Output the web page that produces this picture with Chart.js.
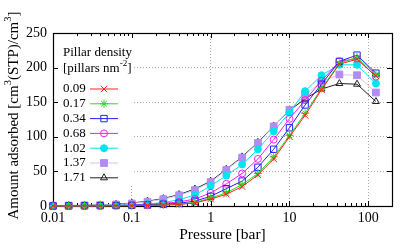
<!DOCTYPE html>
<html>
<head>
<meta charset="utf-8">
<script src="https://cdn.jsdelivr.net/npm/chart.js@4.4.0/dist/chart.umd.min.js"></script>
<style>
  html, body { margin: 0; padding: 0; background: #fff; }
</style>
</head>
<body>
<canvas id="chart" width="415" height="249"></canvas>
<script>
// pressure points [bar] and amount adsorbed for each pillar density
const pressure = [0.01, 0.0158, 0.0251, 0.0398, 0.0631, 0.1, 0.158, 0.251, 0.398, 0.631, 1, 1.58, 2.51, 3.98, 6.31, 10, 15.8, 25.5, 43, 72, 125];
const d009 = [0.1, 0.1, 0.2, 0.3, 0.4, 0.5, 0.8, 1.3, 2.2, 4.5, 10, 17, 28, 45, 68, 100, 131, 168, 205, 212, 188];
const d017 = [0.1, 0.1, 0.2, 0.3, 0.4, 0.6, 0.9, 1.5, 2.6, 5, 11.5, 19, 31, 47, 71, 102, 134, 170, 206, 215, 190];
const d034 = [0.1, 0.2, 0.3, 0.4, 0.6, 0.9, 1.4, 2.4, 4, 7, 14, 25, 36, 56, 82, 113, 146, 176, 209, 218, 192];
const d068 = [0.1, 0.2, 0.3, 0.5, 0.8, 1.3, 2.2, 3.8, 6, 10, 19, 32, 47, 68, 96, 126, 153, 181, 209, 213, 187];
const d102 = [0.2, 0.3, 0.4, 0.7, 1.1, 1.8, 3, 5, 9, 16, 29, 44, 60, 82, 108, 135, 166, 189, 204, 204, 177];
const d137 = [0.4, 0.6, 0.9, 1.4, 2.2, 3.6, 6.2, 9.8, 15.5, 23, 34.5, 52, 70, 91, 115, 139, 160, 180, 190, 189, 164];
const d171 = [0.5, 0.7, 1, 1.6, 2.5, 4.3, 7, 10.7, 16.5, 24.5, 35.8, 53, 71, 92, 115.5, 138, 155, 169, 177, 176, 151];
const densityLabels = ['0.09', '0.17', '0.34', '0.68', '1.02', '1.37', '1.71'];
const xTicks = [0.01, 0.1, 1, 10, 100];
const yTicks = [0, 50, 100, 150, 200, 250];

const SERIF = '"Liberation Serif", "DejaVu Serif", serif';

function pts(vals) {
  return vals.map(function(v, i) { return { x: pressure[i], y: v }; });
}

function ds(label, vals, line, mark, fill, style, r) {
  return {
    label: label,
    data: pts(vals),
    borderColor: line,
    borderWidth: 1,
    pointStyle: style,
    pointRadius: r,
    pointBorderColor: mark,
    pointBackgroundColor: fill,
    pointBorderWidth: 1,
    tension: 0,
    clip: false
  };
}

const datasets = [
  ds(densityLabels[0], d009, '#ff2020', '#ff2020', 'rgba(0,0,0,0)', 'crossRot', 4.5),
  ds(densityLabels[1], d017, '#22dd22', '#22dd22', 'rgba(0,0,0,0)', 'star', 4),
  ds(densityLabels[2], d034, '#2020ff', '#2020ff', 'rgba(0,0,0,0)', 'rect', 4.5),
  ds(densityLabels[3], d068, '#ee22ee', '#ee22ee', 'rgba(0,0,0,0)', 'circle', 3.5),
  ds(densityLabels[4], d102, '#00e4ee', '#00e4ee', '#00e4ee', 'circle', 3.5),
  ds(densityLabels[5], d137, '#d6c2f8', '#b48cf0', '#b48cf0', 'rect', 4.8),
  ds(densityLabels[6], d171, '#202020', '#202020', 'rgba(0,0,0,0)', 'triangle', 4)
];

// text with superscript pieces
function richWidth(ctx, parts, size) {
  let w = 0;
  parts.forEach(function(p) {
    ctx.font = (p.sup ? size * 0.7 : size) + 'px ' + SERIF;
    w += ctx.measureText(p.t).width;
  });
  return w;
}
function drawRich(ctx, parts, x, y, size) {
  ctx.textBaseline = 'middle';
  ctx.textAlign = 'left';
  parts.forEach(function(p) {
    ctx.font = (p.sup ? size * 0.7 : size) + 'px ' + SERIF;
    ctx.fillText(p.t, x, p.sup ? y - size * 0.38 : y);
    x += ctx.measureText(p.t).width;
  });
}

const gnuplotFrame = {
  id: 'gnuplotFrame',
  beforeDatasetsDraw(chart) {
    const ctx = chart.ctx;
    const a = chart.chartArea;
    const xs = chart.scales.x, ys = chart.scales.y;
    ctx.save();
    // key box covers the grid
    ctx.fillStyle = '#fff';
    ctx.fillRect(a.left + 1, a.top + 1, 80, 152);
    // inward ticks
    ctx.strokeStyle = '#000';
    ctx.lineWidth = 1;
    ctx.beginPath();
    for (let dec = 0.01; dec < 300; dec *= 10) {
      for (let m = 1; m <= 9; m++) {
        const v = dec * m;
        if (v < xs.min || v > xs.max) continue;
        const px = Math.round(xs.getPixelForValue(v)) + 0.5;
        const len = m === 1 ? 5 : 3;
        ctx.moveTo(px, a.bottom); ctx.lineTo(px, a.bottom - len);
        ctx.moveTo(px, a.top); ctx.lineTo(px, a.top + len);
      }
    }
    yTicks.forEach(function(v) {
      const py = Math.round(ys.getPixelForValue(v)) + 0.5;
      ctx.moveTo(a.left, py); ctx.lineTo(a.left + 5, py);
      ctx.moveTo(a.right, py); ctx.lineTo(a.right - 5, py);
    });
    ctx.stroke();
    // box
    ctx.lineWidth = 1.2;
    ctx.strokeRect(Math.round(a.left) + 0.5, Math.round(a.top) + 0.5,
      Math.round(a.right - a.left), Math.round(a.bottom - a.top));
    ctx.restore();
  },
  afterDatasetsDraw(chart) {
    const ctx = chart.ctx;
    const a = chart.chartArea;
    ctx.save();
    ctx.fillStyle = '#000';
    // key
    const kx = a.left + 10;
    drawRich(ctx, [{ t: 'Pillar density' }], kx, a.top + 20, 13);
    drawRich(ctx, [{ t: '[pillars nm' }, { t: '-2', sup: true }, { t: ']' }], kx, a.top + 36, 13);
    chart.data.datasets.forEach(function(d, i) {
      const y = a.top + 56 + i * 14.8;
      ctx.fillStyle = '#000';
      drawRich(ctx, [{ t: d.label }], kx, y, 13);
      ctx.strokeStyle = d.borderColor;
      ctx.lineWidth = 1;
      ctx.beginPath();
      ctx.moveTo(a.left + 37, y); ctx.lineTo(a.left + 65, y);
      ctx.stroke();
      ctx.strokeStyle = d.pointBorderColor;
      ctx.fillStyle = d.pointBackgroundColor;
      Chart.helpers.drawPoint(ctx, { pointStyle: d.pointStyle, radius: d.pointRadius, rotation: 0, borderWidth: 1 }, a.left + 51, y);
    });
    // axis titles
    ctx.fillStyle = '#000';
    const xt = [{ t: 'Pressure [bar]' }];
    drawRich(ctx, xt, (a.left + a.right) / 2 - richWidth(ctx, xt, 15.5) / 2, 235, 15.5);
    const yt = [{ t: 'Amount adsorbed [cm' }, { t: '3', sup: true }, { t: '(STP)/cm' }, { t: '3', sup: true }, { t: ']' }];
    ctx.translate(14, (a.top + a.bottom) / 2 - 4);
    ctx.rotate(-Math.PI / 2);
    drawRich(ctx, yt, -richWidth(ctx, yt, 15) / 2, 0, 15);
    ctx.restore();
  }
};

new Chart(document.getElementById('chart').getContext('2d'), {
  type: 'line',
  data: { datasets: datasets },
  options: {
    responsive: false,
    animation: false,
    events: [],
    layout: { padding: { top: 33, right: 23, left: 0, bottom: 0 } },
    plugins: { legend: { display: false }, tooltip: { enabled: false } },
    scales: {
      x: {
        type: 'logarithmic',
        min: 0.01,
        max: 200,
        afterBuildTicks: function(s) { s.ticks = xTicks.map(function(v) { return { value: v }; }); },
        afterFit: function(s) { s.height = 43; },
        ticks: {
          autoSkip: false,
          maxRotation: 0,
          padding: 4,
          color: '#000',
          font: { family: SERIF, size: 14 },
          callback: function(v) { return String(v); }
        },
        grid: {
          drawTicks: false,
          lineWidth: 1,
          color: function(c) { return (c.tick && c.tick.value === 0.01) ? 'rgba(0,0,0,0)' : '#a8a8a8'; }
        },
        border: { display: false, dash: [1, 2] }
      },
      y: {
        min: 0,
        max: 250,
        afterBuildTicks: function(s) { s.ticks = yTicks.map(function(v) { return { value: v }; }); },
        afterFit: function(s) { s.width = 53; },
        ticks: {
          padding: 6,
          color: '#000',
          font: { family: SERIF, size: 14 }
        },
        grid: {
          drawTicks: false,
          lineWidth: 1,
          color: function(c) { return (c.tick && (c.tick.value === 0 || c.tick.value === 250)) ? 'rgba(0,0,0,0)' : '#a8a8a8'; }
        },
        border: { display: false, dash: [1, 2] }
      }
    }
  },
  plugins: [gnuplotFrame]
});
</script>
</body>
</html>
